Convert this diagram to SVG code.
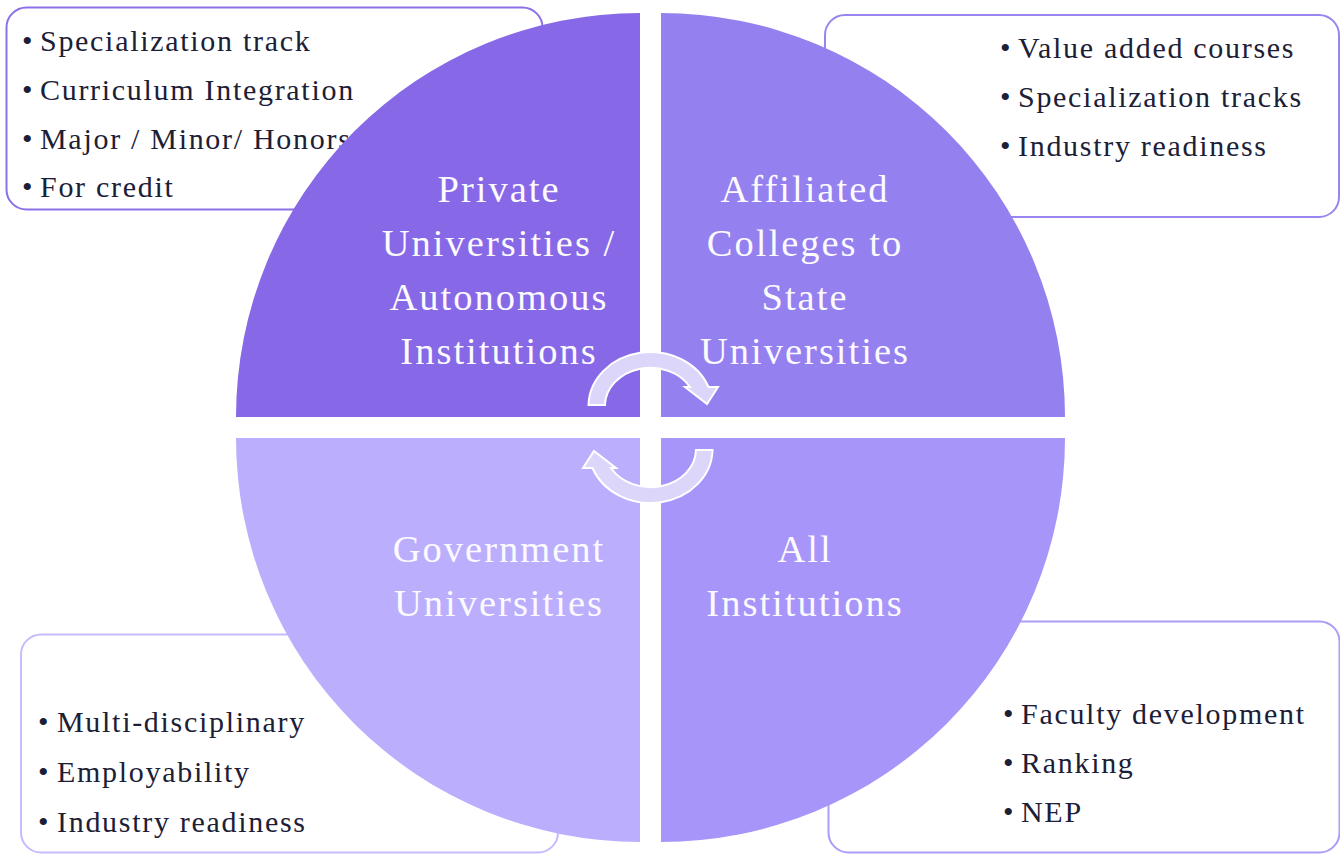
<svg xmlns="http://www.w3.org/2000/svg" width="1340" height="854" viewBox="0 0 1340 854">
<style>
.box{fill:#ffffff;stroke-width:2}
.bul{font-family:"Liberation Serif","Times New Roman",serif;font-size:30px;letter-spacing:1.7px;fill:#1c2036}
.lbl{font-family:"Liberation Serif","Times New Roman",serif;font-size:38.5px;letter-spacing:2px;fill:#fbfaff;text-anchor:middle}
.arrow{fill:#dcd6fb;stroke:#ffffff;stroke-width:2;stroke-linejoin:miter}
</style>
<defs>
<path id="arr" d="M 588.5 405 A 62 54 0 0 1 708.5 387 L 718 387 L 707 404 L 685 387 L 690 387 A 45.5 38 0 0 0 605 405 Z"/>
</defs>
<rect width="1340" height="854" fill="#ffffff"/>
<g id="box-tl"><rect class="box" x="6.5" y="7.5" width="536" height="202" rx="20" stroke="#8c70e8"/>
<text class="bul"><tspan x="22" y="51">•</tspan><tspan x="40" y="51">Specialization track</tspan></text>
<text class="bul"><tspan x="22" y="100">•</tspan><tspan x="40" y="100">Curriculum Integration</tspan></text>
<text class="bul"><tspan x="22" y="149">•</tspan><tspan x="40" y="149">Major / Minor/ Honors</tspan></text>
<text class="bul"><tspan x="22" y="197">•</tspan><tspan x="40" y="197">For credit</tspan></text>
</g>
<g id="box-tr"><rect class="box" x="825" y="15" width="514" height="202" rx="20" stroke="#9a85f0"/>
<text class="bul"><tspan x="1000" y="58">•</tspan><tspan x="1018" y="58">Value added courses</tspan></text>
<text class="bul"><tspan x="1000" y="107">•</tspan><tspan x="1018" y="107">Specialization tracks</tspan></text>
<text class="bul"><tspan x="1000" y="156">•</tspan><tspan x="1018" y="156">Industry readiness</tspan></text>
</g>
<g id="box-bl"><rect class="box" x="21" y="634.5" width="537" height="218" rx="20" stroke="#c6bbfd"/>
<text class="bul"><tspan x="38" y="732">•</tspan><tspan x="57" y="732">Multi-disciplinary</tspan></text>
<text class="bul"><tspan x="38" y="782">•</tspan><tspan x="57" y="782">Employability</tspan></text>
<text class="bul"><tspan x="38" y="832">•</tspan><tspan x="57" y="832">Industry readiness</tspan></text>
</g>
<g id="box-br"><rect class="box" x="828.5" y="621.5" width="511" height="231" rx="20" stroke="#ad9cf8"/>
<text class="bul"><tspan x="1003" y="724">•</tspan><tspan x="1021" y="724">Faculty development</tspan></text>
<text class="bul"><tspan x="1003" y="773">•</tspan><tspan x="1021" y="773">Ranking</tspan></text>
<text class="bul"><tspan x="1003" y="822">•</tspan><tspan x="1021" y="822">NEP</tspan></text>
</g>
<g id="q-tl"><path d="M 236 417 A 404 404 0 0 1 640 13 L 640 417 Z" fill="#8768e6"/>
<text class="lbl"><tspan x="499" y="202">Private</tspan><tspan x="499" y="256">Universities /</tspan><tspan x="499" y="310">Autonomous</tspan><tspan x="499" y="364">Institutions</tspan></text>
</g>
<g id="q-tr"><path d="M 661 13 A 404 404 0 0 1 1065 417 L 661 417 Z" fill="#9580f0"/>
<text class="lbl"><tspan x="805" y="202">Affiliated</tspan><tspan x="805" y="256">Colleges to</tspan><tspan x="805" y="310">State</tspan><tspan x="805" y="364">Universities</tspan></text>
</g>
<g id="q-bl"><path d="M 640 842 A 404 404 0 0 1 236 438 L 640 438 Z" fill="#bbaffd"/>
<text class="lbl"><tspan x="499" y="562">Government</tspan><tspan x="499" y="616">Universities</tspan></text>
</g>
<g id="q-br"><path d="M 1065 438 A 404 404 0 0 1 661 842 L 661 438 Z" fill="#a895f9"/>
<text class="lbl"><tspan x="805" y="562">All</tspan><tspan x="805" y="616">Institutions</tspan></text>
</g>
<g id="connectors">
<use href="#arr" class="arrow"/>
<use href="#arr" class="arrow" transform="rotate(180 650.5 427.5)"/>
</g>
</svg>
